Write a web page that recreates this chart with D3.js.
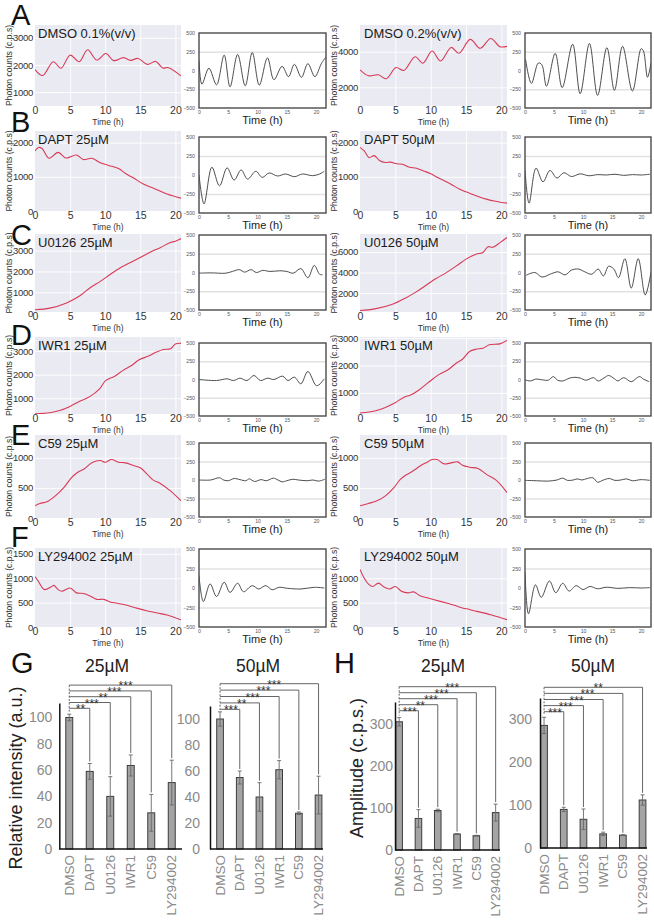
<!DOCTYPE html>
<html><head><meta charset="utf-8">
<script src="https://cdn.jsdelivr.net/npm/d3@7"></script>
<style>body{margin:0;background:#fff}svg{display:block}</style>
</head><body><svg id="c" width="654" height="920"></svg>
<script>
// ---------- DATA: raw bioluminescence traces [time(h), counts] ----------
const rawDMSO01 = [[0,1830],[1.1,1610],[2.6,2120],[3.7,1880],[5,2360],[6.3,2120],[7.5,2560],[8.8,2180],[10.1,2420],[11.2,2160],[12.6,2270],[13.6,2170],[14.7,2240],[16,2020],[17.2,2130],[18.2,1890],[19,1900],[20.8,1600]];
const rawDMSO02 = [[0,2985],[1.2,2650],[2.6,2705],[3.7,2480],[5.1,3110],[6.2,2945],[7.8,3720],[8.9,3355],[10.2,4040],[11.4,3480],[12.9,4240],[14.0,3910],[15.6,4690],[17.0,4190],[18.5,4745],[19.8,4280],[20.8,4300]];
const rawDAPT25 = [[0,1760],[0.5,1857],[1,1830],[2.0,1543],[3.3,1714],[4.4,1552],[5.9,1638],[6.9,1505],[8.1,1543],[9.3,1410],[10.5,1333],[11.9,1240],[12.9,1095],[14.0,970],[15.5,780],[16.9,667],[18.8,495],[20.8,375]];
const rawDAPT50 = [[0,1860],[0.6,1760],[1.3,1560],[2.0,1620],[2.8,1470],[3.6,1420],[4.3,1430],[5.2,1380],[6.0,1370],[7.0,1280],[8.0,1250],[9,1170],[10,1090],[11,980],[12,880],[13,770],[14,650],[15,560],[16,480],[17,400],[18,340],[19,290],[20,250],[20.8,230]];
const rawU25 = [[0,157],[2.1,235],[4.5,487],[6.4,832],[7.9,1225],[9.3,1523],[10.7,1853],[12.1,2166],[13.6,2433],[15,2670],[16.4,2920],[17.9,3155],[19.3,3390],[20,3450],[20.8,3580]];
const rawU50 = [[0,315],[2.1,477],[4.5,900],[6.4,1514],[7.9,2097],[9.3,2745],[10.7,3393],[12.1,3944],[13.6,4620],[15,5300],[16.4,5780],[17.4,5950],[18.1,6500],[18.8,6450],[19.8,6900],[20.8,7400]];
const rawIWR25 = [[0,338],[2.1,380],[3.5,476],[4.9,641],[6.3,862],[7.8,1069],[9.2,1400],[10.1,1760],[11.3,1925],[12.5,2173],[13.7,2380],[14.9,2642],[16.1,2780],[17.3,2960],[18.3,3070],[19.3,3100],[20,3305],[20.8,3330]];
const rawIWR50 = [[0,264],[2.1,337],[3.5,460],[4.9,632],[6.3,853],[7.1,914],[8.3,1098],[9.8,1405],[11.2,1675],[12.4,1834],[13.6,2080],[14.5,2227],[15.5,2509],[16.4,2595],[17.4,2632],[18.3,2755],[19.8,2790],[20.8,2914]];
const rawC5925 = [[0,203],[0.7,241],[1.7,269],[2.9,368],[4.1,505],[5.2,670],[6.0,752],[7.1,823],[8.1,917],[9.3,955],[10,928],[10.9,972],[11.9,928],[12.9,917],[14,873],[15,834],[16,725],[16.9,626],[17.9,571],[19.3,450],[20.8,285]];
const rawC5950 = [[0,203],[1.2,241],[2.4,285],[3.6,368],[4.8,505],[5.7,642],[6.4,708],[7.1,752],[7.8,807],[8.6,873],[9.5,928],[10.2,972],[10.9,972],[11.9,900],[12.9,917],[13.8,933],[14.5,878],[15.5,845],[16.7,823],[17.9,725],[19.3,626],[20.8,423]];
const rawLY25 = [[0,1033],[0.5,933],[1,813],[1.4,767],[2.4,833],[2.7,853],[3.3,767],[3.8,733],[5.0,800],[5.9,700],[6.9,687],[7.9,633],[8.8,567],[9.8,567],[10.7,513],[11.7,487],[13.1,447],[14.5,387],[15.9,333],[17.4,287],[18.8,247],[20.8,147]];
const rawLY50 = [[0,1180],[0.6,1000],[1.2,880],[1.8,830],[2.6,900],[3.4,820],[4.2,780],[5,830],[5.8,740],[6.8,700],[7.6,720],[8.5,640],[9.5,600],[10.5,560],[11.5,520],[12.5,480],[13.5,440],[14.5,390],[15.5,360],[16.5,320],[17.5,290],[18.5,250],[19.5,210],[20.8,150]];

// ---------- DATA: detrended traces [time(h), counts] ----------
const detDMSO01 = [[0,136],[0.5,-182],[1.7,30],[3.0,-191],[4.3,205],[5.3,-218],[6.6,214],[7.9,-204],[9.1,240],[10.3,-195],[11.7,168],[12.8,-123],[14.2,55],[15.3,-82],[16.3,82],[17.5,-91],[18.6,91],[19.8,-82],[20.9,91],[21.7,182]];
const detDMSO02 = [[0.1,146],[1.1,-173],[2.3,100],[2.9,77],[3.7,-209],[5.2,228],[6.4,-228],[8.2,350],[9.5,-309],[11.1,360],[12.5,-332],[14.1,305],[15.4,-264],[16.8,323],[18.5,-273],[20.0,291],[20.4,259],[21.1,-91],[21.7,100]];
const detDAPT25 = [[0,0],[0.86,-380],[2.2,103],[3.5,-143],[4.8,94],[6.0,-67],[7.2,67],[8.3,-54],[9.7,49],[10.8,-31],[12,27],[13.4,-13],[14.8,13],[16.3,-22],[17.7,13],[19.4,-9],[20.6,13],[21.4,49]];
const detDAPT50 = [[0,60],[0.7,-370],[1.9,90],[3.1,-90],[4.3,60],[5.5,-40],[6.7,30],[8,-20],[9.5,15],[11,-10],[12.5,5],[14,0],[15.5,10],[17,-5],[18.5,5],[20,0],[21.5,10]];
const detU25 = [[0,-9],[2,-5],[4.6,-9],[5.7,14],[6.9,38],[7.8,5],[8.9,38],[9.8,0],[10.9,28],[12.1,14],[13.8,23],[15,14],[16.1,-9],[17.4,52],[18.6,-70],[19.7,94],[20.6,-23],[21.1,-30]];
const detU50 = [[0.2,-37],[1.7,0],[2.9,-60],[4.6,-14],[5.7,9],[6.9,-32],[8,32],[9.2,46],[10.3,9],[11.5,-23],[12.6,46],[13.5,-46],[14.4,83],[15.3,46],[16.1,-69],[17.2,184],[18.3,-207],[19.5,184],[20.7,-299],[21.7,0]];
const detIWR25 = [[0,0],[3,-14],[4.8,9],[5.9,-14],[7,18],[8.2,-14],[9.4,55],[10.5,-14],[11.7,18],[12.8,0],[14.3,46],[15.2,-14],[16.3,32],[17.4,-59],[18.6,109],[20,-82],[20.5,-73],[21.4,9]];
const detIWR50 = [[0,-5],[1,-20],[1.8,5],[3,-5],[4,-10],[4.9,40],[5.6,-10],[6.5,-20],[7.7,20],[8.6,30],[9.5,20],[10.5,-10],[11.8,25],[12.6,-20],[13.6,20],[14.4,55],[15.4,10],[16,-20],[17,25],[18.3,-30],[19.7,40],[20.4,5],[21.4,-30]];
const detC5925 = [[0,0],[2,0],[3.5,30],[4.2,0],[5,-10],[6,20],[7,5],[8,-10],[8.6,15],[9.5,-20],[10.6,5],[11.5,-10],[12.7,25],[13.5,0],[14.2,-25],[15,-10],[16,10],[17,0],[18.5,-10],[19.5,0],[20.4,-15],[21.5,10]];
const detC5950 = [[0,-5],[2,-10],[4,-15],[5.5,0],[6.5,25],[7.3,-5],[8.3,0],[9,15],[9.8,0],[10.7,20],[11.7,30],[12.5,-30],[13.5,0],[14.5,20],[15.5,-5],[16.5,0],[17.5,15],[18.5,-10],[20,5],[21.5,-5]];
const detLY25 = [[0,160],[0.75,-174],[1.9,52],[3,-109],[4.3,74],[5.3,-57],[6.6,61],[7.6,-48],[9.1,30],[10.2,-13],[11.4,30],[12.5,-22],[13.7,9],[15.1,-4],[17.4,-13],[19.7,9],[21.4,0]];
const detLY50 = [[0,200],[0.6,-330],[1.8,40],[2.8,-120],[4.2,90],[5.3,-60],[6.5,60],[7.6,-40],[8.8,30],[10,-20],[11.2,20],[12.5,-10],[14,10],[16,-5],[18,5],[20,0],[21.5,5]];

// ---------- panel texts / ticks ----------
const rowLetters = ["A","B","C","D","E","F"];
const condLabels = [["DMSO 0.1%(v/v)","DMSO 0.2%(v/v)"],["DAPT 25µM","DAPT 50µM"],["U0126 25µM","U0126 50µM"],["IWR1 25µM","IWR1 50µM"],["C59 25µM","C59 50µM"],["LY294002 25µM","LY294002 50µM"]];
const rawSeries = [[rawDMSO01,rawDMSO02],[rawDAPT25,rawDAPT50],[rawU25,rawU50],[rawIWR25,rawIWR50],[rawC5925,rawC5950],[rawLY25,rawLY50]];
const detSeries = [[detDMSO01,detDMSO02],[detDAPT25,detDAPT50],[detU25,detU50],[detIWR25,detIWR50],[detC5925,detC5950],[detLY25,detLY50]];
const rawYTicks = [[[1000,2000,3000],[2000,4000]],[[0,1000,2000],[0,1000,2000]],[[0,1000,2000,3000],[2000,4000,6000]],[[1000,2000,3000],[1000,2000,3000]],[[0,500,1000],[0,500,1000]],[[0,500,1000,1500],[0,500,1000]]];
const rawYDomains = [[[490,3470],[950,5500]],[[0,2340],[0,2340]],[[50,3800],[170,7740]],[[330,3600],[230,3040]],[[0,1380],[0,1380]],[[0,1620],[0,1620]]];
const rawXTicks = [0,5,10,15,20];
const detYTicks = [-500,-250,0,250,500];
const detXTicks = [0,5,10,15,20];

// ---------- bar chart data ----------
const drugs = ["DMSO","DAPT","U0126","IWR1","C59","LY294002"];
const rel25 = [100,59,40,63.5,27.5,50.5];
const rel25Err = [2.5,6,15,8,14,17];
const rel25Sig = ["**","***","**","***","***"];
const rel50 = [100,55,40,61,27.5,41.5];
const rel50Err = [5.5,5,11,7,1,14.5];
const rel50Sig = ["***","**","***","***","***"];
const amp25 = [305,75,94,38,34,89];
const amp25Err = [10,21,3,1,1,20];
const amp25Sig = ["***","**","***","***","***"];
const amp50 = [286,90,67,33,30,112];
const amp50Err = [19,5,24,4,1,12];
const amp50Sig = ["***","***","***","***","**"];
const relTicks = [0,20,40,60,80,100];
const ampTicks = [0,100,200,300];

// ---------- layout ----------
const FONT = '"Liberation Sans", Arial, Helvetica, sans-serif';
const svg = d3.select("#c").attr("font-family", FONT);
const fmt = d3.format("d");
const rows = [
  {ly:25, rawTop:25, rawBot:106, detTop:33, detBot:108},
  {ly:132, rawTop:131, rawBot:211, detTop:137, detBot:213},
  {ly:245, rawTop:234, rawBot:312, detTop:235, detBot:310},
  {ly:345, rawTop:337, rawBot:414, detTop:343, detBot:416},
  {ly:445, rawTop:435, rawBot:518, detTop:443, detBot:517},
  {ly:547, rawTop:548, rawBot:627, detTop:549, detBot:627}
];
const cols = [
  {ylab:9, tickR:33, rx0:35, rx1:181, lab:38, dx0:199, dx1:326},
  {ylab:334, tickR:358, rx0:360, rx1:507, lab:364, dx0:525, dx1:651}
];
let clipN = 0;

function drawRaw(col,row,data,domain,ticks,label){
  const g = svg.append("g");
  const x = d3.scaleLinear().domain([0,20.8]).range([col.rx0,col.rx1]);
  const y = d3.scaleLinear().domain(domain).range([row.rawBot,row.rawTop]);
  const w = col.rx1-col.rx0, h = row.rawBot-row.rawTop;
  g.append("rect").attr("x",col.rx0).attr("y",row.rawTop).attr("width",w).attr("height",h).attr("fill","#eaeaf2");
  const gx = g.append("g").attr("transform",`translate(0,${row.rawTop})`)
    .call(d3.axisBottom(x).tickValues(rawXTicks.filter(t=>t>0)).tickSize(h).tickSizeOuter(0).tickFormat(""));
  gx.select(".domain").remove();
  gx.selectAll("line").attr("stroke","#fff").attr("stroke-width",0.9);
  const gy = g.append("g").attr("transform",`translate(${col.rx0},0)`)
    .call(d3.axisRight(y).tickValues(ticks.filter(t=>t>domain[0]&&t<domain[1])).tickSize(w).tickFormat(""));
  gy.select(".domain").remove();
  gy.selectAll("line").attr("stroke","#fff").attr("stroke-width",0.9);
  const id = "cl"+(clipN++);
  g.append("clipPath").attr("id",id).append("rect").attr("x",col.rx0).attr("y",row.rawTop).attr("width",w).attr("height",h);
  g.append("path").datum(data).attr("clip-path",`url(#${id})`)
    .attr("d",d3.line().x(d=>x(d[0])).y(d=>y(d[1])).curve(d3.curveCatmullRom.alpha(0.5)))
    .attr("fill","none").attr("stroke","#d83a56").attr("stroke-width",1.1);
  const ay = g.append("g").attr("transform",`translate(${col.rx0},0)`)
    .call(d3.axisLeft(y).tickValues(ticks).tickFormat(fmt).tickSize(0).tickPadding(col.rx0-col.tickR));
  ay.select(".domain").remove();
  ay.selectAll("text").attr("font-size",9.5).attr("fill","#333").attr("font-family",FONT).attr("letter-spacing",-0.3);
  const ax = g.append("g").attr("transform",`translate(0,${row.rawBot})`)
    .call(d3.axisBottom(x).tickValues(rawXTicks).tickFormat(fmt).tickSize(0).tickPadding(0));
  ax.select(".domain").remove();
  ax.selectAll("text").attr("font-size",10.5).attr("fill","#333").attr("font-family",FONT).attr("dy","0.75em").attr("y",0);
  g.append("text").attr("x",(col.rx0+col.rx1)/2).attr("y",row.rawBot+19).attr("text-anchor","middle")
    .attr("font-size",8.5).attr("fill","#333").text("Time (h)");
  g.append("text").attr("x",col.lab).attr("y",row.rawTop+12.5).attr("font-size",13).attr("fill","#1a1a1a").text(label);
  g.append("text").attr("transform",`translate(${col.ylab},${(row.rawTop+row.rawBot)/2}) rotate(-90)`)
    .attr("text-anchor","middle").attr("dy","0.35em").attr("font-size",8.6).attr("fill","#333").text("Photon counts (c.p.s)");
}

function drawDet(col,row,data){
  const g = svg.append("g");
  const x = d3.scaleLinear().domain([0,21.7]).range([col.dx0,col.dx1]);
  const y = d3.scaleLinear().domain([-500,500]).range([row.detBot,row.detTop]);
  const w = col.dx1-col.dx0;
  const gy = g.append("g").attr("transform",`translate(${col.dx0},0)`)
    .call(d3.axisRight(y).tickValues([-250,250]).tickSize(w).tickFormat(""));
  gy.select(".domain").remove();
  gy.selectAll("line").attr("stroke","#e2e2e2").attr("stroke-width",1.6);
  const id = "cl"+(clipN++);
  g.append("clipPath").attr("id",id).append("rect").attr("x",col.dx0).attr("y",row.detTop).attr("width",w).attr("height",row.detBot-row.detTop);
  g.append("path").datum(data).attr("clip-path",`url(#${id})`)
    .attr("d",d3.line().x(d=>x(d[0])).y(d=>y(d[1])).curve(d3.curveCatmullRom.alpha(0.5)))
    .attr("fill","none").attr("stroke","#3a3a3a").attr("stroke-width",0.9);
  g.append("rect").attr("x",col.dx0).attr("y",row.detTop).attr("width",w).attr("height",row.detBot-row.detTop)
    .attr("fill","none").attr("stroke","#4a4a4a").attr("stroke-width",1.4);
  const ay = g.append("g").attr("transform",`translate(${col.dx0},0)`)
    .call(d3.axisLeft(y).tickValues(detYTicks).tickFormat(fmt).tickSize(0).tickPadding(4));
  ay.select(".domain").remove();
  ay.selectAll("text").attr("font-size",5.2).attr("fill","#555").attr("font-family",FONT);
  const ax = g.append("g").attr("transform",`translate(0,${row.detBot})`)
    .call(d3.axisBottom(x).tickValues(detXTicks).tickFormat(fmt).tickSize(0).tickPadding(0));
  ax.select(".domain").remove();
  ax.selectAll("text").attr("font-size",5.2).attr("fill","#555").attr("font-family",FONT).attr("y",6).attr("dy",0);
  g.append("text").attr("x",(col.dx0+col.dx1)/2).attr("y",row.detBot+15.5).attr("text-anchor","middle")
    .attr("font-size",11).attr("fill","#222").text("Time (h)");
}

rows.forEach((row,i)=>{
  cols.forEach((col,j)=>{
    drawRaw(col,row,rawSeries[i][j],rawYDomains[i][j],rawYTicks[i][j],condLabels[i][j]);
    drawDet(col,row,detSeries[i][j]);
  });
  svg.append("text").attr("x",11).attr("y",row.ly).attr("font-size",29).attr("fill","#111").text(rowLetters[i]);
});

// ---------- bar charts ----------
function drawBars(cfg){
  const g = svg.append("g");
  const x = d3.scaleBand().domain(drugs).range([cfg.b0,cfg.b1]).paddingInner(0.66).paddingOuter(0.33);
  const y = d3.scaleLinear().domain([0,cfg.max]).range([cfg.yBot,cfg.yTop]);
  const bw = x.bandwidth();
  const cx = d => x(d)+bw/2;
  g.selectAll("rect.bar").data(drugs).join("rect").attr("class","bar")
    .attr("x",d=>x(d)).attr("y",(d,i)=>y(cfg.vals[i])).attr("width",bw)
    .attr("height",(d,i)=>cfg.yBot-y(cfg.vals[i]))
    .attr("fill","#a4a4a4").attr("stroke","#3c3c3c").attr("stroke-width",1);
  drugs.forEach((d,i)=>{
    const v=cfg.vals[i], e=cfg.errs[i];
    g.append("line").attr("x1",cx(d)).attr("x2",cx(d)).attr("y1",y(v-e)).attr("y2",y(v+e)).attr("stroke","#666").attr("stroke-width",0.9);
    [v-e,v+e].forEach(yy=>g.append("line").attr("x1",cx(d)-2).attr("x2",cx(d)+2).attr("y1",y(yy)).attr("y2",y(yy)).attr("stroke","#666").attr("stroke-width",0.9));
  });
  const ay = g.append("g").attr("transform",`translate(${cfg.x0},0)`)
    .call(d3.axisLeft(y).tickValues(cfg.ticks).tickFormat(fmt).tickSize(0).tickSizeOuter(0).tickPadding(cfg.pad));
  ay.select(".domain").attr("stroke","#111").attr("stroke-width",1.5);
  ay.selectAll("text").attr("font-size",14).attr("fill","#8a8a8a").attr("font-family",FONT);
  g.append("line").attr("x1",cfg.x0).attr("x2",cfg.x1).attr("y1",cfg.yBot).attr("y2",cfg.yBot).attr("stroke","#111").attr("stroke-width",1.5);
  drugs.forEach(d=>{
    g.append("text").attr("transform",`translate(${cx(d)+4.5},${cfg.yBot+6}) rotate(-90)`)
      .attr("text-anchor","end").attr("font-size",13.5).attr("fill","#8a8a8a").text(d);
  });
  const dx = cx("DMSO");
  cfg.sig.forEach((s,k)=>{
    const d = drugs[k+1], tx = cx(d);
    const ly = cfg.brBase - k*cfg.brStep;
    g.append("line").attr("x1",dx).attr("x2",tx).attr("y1",ly).attr("y2",ly).attr("stroke","#555").attr("stroke-width",0.9);
    g.append("line").attr("x1",tx).attr("x2",tx).attr("y1",ly).attr("y2",y(cfg.vals[k+1]+cfg.errs[k+1])-2).attr("stroke","#555").attr("stroke-width",0.9);
    g.append("text").attr("x",dx+(tx-dx)*0.55).attr("y",ly+5).attr("text-anchor","middle").attr("font-size",12).attr("fill","#333").text(s);
  });
  const topY = cfg.brBase - (cfg.sig.length-1)*cfg.brStep;
  g.append("line").attr("x1",dx).attr("x2",dx).attr("y1",topY).attr("y2",y(cfg.vals[0]+cfg.errs[0])-2)
    .attr("stroke","#555").attr("stroke-width",0.9).attr("stroke-dasharray","2,1.5");
  g.append("text").attr("x",cfg.tx).attr("y",672).attr("text-anchor","middle").attr("font-size",17.5).attr("fill","#222").text(cfg.title);
}

drawBars({vals:rel25,errs:rel25Err,sig:rel25Sig,ticks:relTicks,max:111,x0:59.3,x1:182,b0:59,b1:182,yTop:703,yBot:849,pad:7,brBase:708.3,brStep:5.8,title:"25µM",tx:107});
drawBars({vals:rel50,errs:rel50Err,sig:rel50Sig,ticks:relTicks,max:110,x0:210,x1:323,b0:210.2,b1:328.4,yTop:706,yBot:849,pad:10,brBase:709.3,brStep:6.4,title:"50µM",tx:258});
drawBars({vals:amp25,errs:amp25Err,sig:amp25Sig,ticks:ampTicks,max:352,x0:395,x1:500,b0:389.5,b1:505.3,yTop:702,yBot:850,pad:2,brBase:710.7,brStep:6,title:"25µM",tx:443});
drawBars({vals:amp50,errs:amp50Err,sig:amp50Sig,ticks:ampTicks,max:350,x0:540,x1:647,b0:534.2,b1:652.4,yTop:698,yBot:848,pad:8,brBase:711.7,brStep:6.1,title:"50µM",tx:593});

svg.append("text").attr("transform","translate(22,778) rotate(-90)").attr("text-anchor","middle").attr("font-size",18).attr("fill","#222").text("Relative intensity (a.u.)");
svg.append("text").attr("transform","translate(363,768) rotate(-90)").attr("text-anchor","middle").attr("font-size",18).attr("fill","#222").text("Amplitude (c.p.s.)");
svg.append("text").attr("x",11).attr("y",673).attr("font-size",29).attr("fill","#111").text("G");
svg.append("text").attr("x",334).attr("y",673).attr("font-size",29).attr("fill","#111").text("H");
</script></body></html>
